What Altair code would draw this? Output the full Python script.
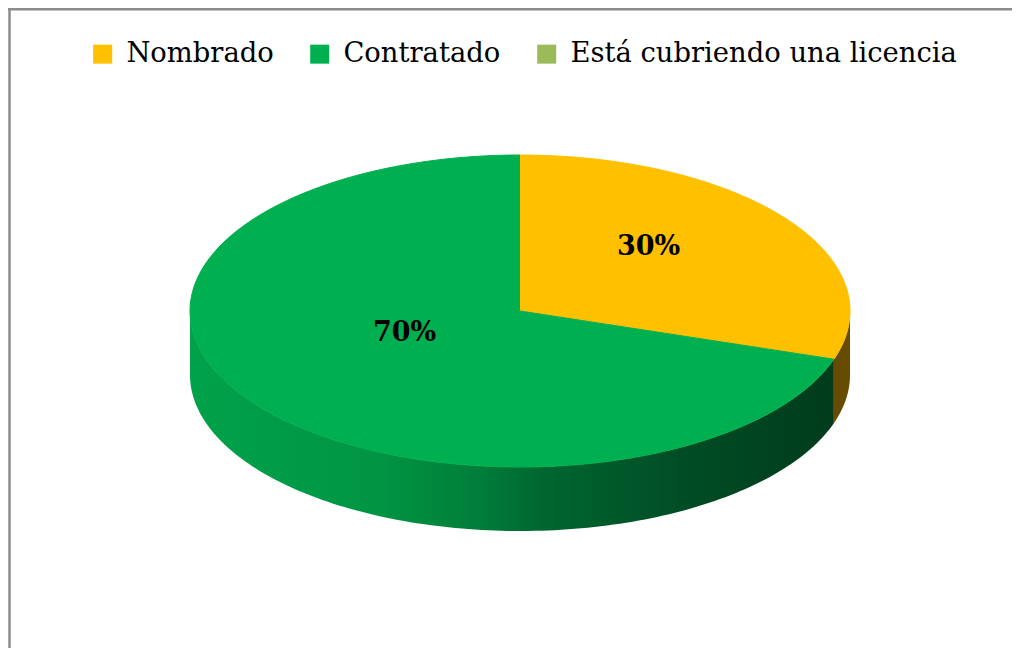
import altair as alt
import pandas as pd

# ---- data ----
categories = ["Nombrado", "Contratado", "Está cubriendo una licencia"]
values = [30, 70, 0]
order = [0, 1, 2]
colors = ["#FFC000", "#00B050", "#9BBB59"]

df = pd.DataFrame({"category": categories, "value": values, "order": order})

# ---- geometry / style constants ----
W, H = 1004, 640
CX, CY = 512, 303      # centre of the pie top face
A, B = 330, 156        # ellipse half-axes (3-D tilt)
D = 64                 # depth of the pie wall
N = 140                # arc resolution

xs = alt.X("px:Q", scale=alt.Scale(domain=[0, W], nice=False, zero=False), axis=None)
ys = alt.Y("py:Q", scale=alt.Scale(domain=[0, H], nice=False, zero=False, reverse=True), axis=None)


def base():
    return (
        alt.Chart(df)
        .transform_joinaggregate(total="sum(value)")
        .transform_window(cum="sum(value)", sort=[alt.SortField("order")], frame=[None, 0])
        .transform_calculate(
            a0="2*PI*(datum.cum-datum.value)/datum.total",
            a1="2*PI*datum.cum/datum.total",
        )
        .transform_filter("datum.value > 0")
    )


def side(cat, fill):
    return (
        base()
        .transform_filter(alt.datum.category == cat)
        .transform_calculate(s="max(datum.a0, PI/2)", e="min(datum.a1, 3*PI/2)")
        .transform_filter("datum.s < datum.e")
        .transform_calculate(k=f"sequence(0, {2 * N + 2})")
        .transform_flatten(["k"])
        .transform_calculate(
            t=f"datum.k <= {N} ? datum.k/{N} : ({2 * N + 1}-datum.k)/{N}",
        )
        .transform_calculate(ang="datum.s + (datum.e-datum.s)*datum.t")
        .transform_calculate(
            px=f"{CX} + {A}*sin(datum.ang)",
            py=f"{CY} - {B}*cos(datum.ang) + (datum.k > {N} ? {D} : 0)",
        )
        .mark_line(fill=fill, strokeWidth=0, interpolate="linear")
        .encode(x=xs, y=ys, order=alt.Order("k:Q"))
    )


green_side = alt.Gradient(
    gradient="linear",
    x1=0, y1=0, x2=1, y2=0,
    stops=[
        alt.GradientStop(offset=0.0, color="#00A24A"),
        alt.GradientStop(offset=0.3, color="#009443"),
        alt.GradientStop(offset=0.45, color="#007D39"),
        alt.GradientStop(offset=0.55, color="#006630"),
        alt.GradientStop(offset=0.78, color="#004B24"),
        alt.GradientStop(offset=1.0, color="#003C1C"),
    ],
)

sides = side("Contratado", green_side) + side("Nombrado", "#664C00")

top = (
    base()
    .transform_calculate(k=f"sequence(0, {N + 2})")
    .transform_flatten(["k"])
    .transform_calculate(ang=f"datum.a0 + (datum.a1-datum.a0)*(datum.k-1)/{N}")
    .transform_calculate(
        px=f"datum.k == 0 ? {CX} : {CX} + {A}*sin(datum.ang)",
        py=f"datum.k == 0 ? {CY} : {CY} - {B}*cos(datum.ang)",
    )
    .mark_line(strokeWidth=1, interpolate="linear")
    .encode(
        x=xs,
        y=ys,
        order=alt.Order("k:Q"),
        fill=alt.Fill(
            "category:N",
            scale=alt.Scale(domain=categories, range=colors),
            legend=alt.Legend(
                title=None,
                orient="none",
                legendX=81,
                legendY=32,
                direction="horizontal",
                symbolType="square",
                symbolSize=361,
                symbolStrokeWidth=0,
                symbolOpacity=1,
                labelFont="DejaVu Serif",
                labelFontSize=27.4,
                labelColor="#000000",
                labelOffset=10,
                columnPadding=32,
                padding=0,
                labelLimit=600,
            ),
        ),
        stroke=alt.Stroke("category:N", scale=alt.Scale(domain=categories, range=colors), legend=None),
    )
)

labels = (
    base()
    .transform_calculate(mid="(datum.a0+datum.a1)/2")
    .transform_calculate(
        px=f"{CX} + {A}*0.457*sin(datum.mid) + 6.5",
        py=f"{CY} - {B}*0.47*cos(datum.mid) - 21",
        txt="format(datum.value/datum.total, '.0%')",
    )
    .mark_text(font="DejaVu Serif", fontSize=27, fontWeight="bold", color="#000000")
    .encode(x=xs, y=ys, text="txt:N")
)

frame_data = alt.Data(values=[{"a": 1}])
border_top = alt.Chart(frame_data).mark_rule(color="#8C8C8C", strokeWidth=2.5).encode(
    x=alt.value(0), x2=alt.value(W), y=alt.value(1.25)
)
border_left = alt.Chart(frame_data).mark_rule(color="#8C8C8C", strokeWidth=2.5).encode(
    x=alt.value(1.5), y=alt.value(0), y2=alt.value(H)
)

chart = (
    alt.layer(sides, top, labels, border_top, border_left)
    .properties(width=W, height=H, autosize=alt.AutoSizeParams(type="none"), padding=0)
    .configure_view(stroke=None)
)

chart.save("out.html", embed_options={"renderer": "svg", "actions": False})
